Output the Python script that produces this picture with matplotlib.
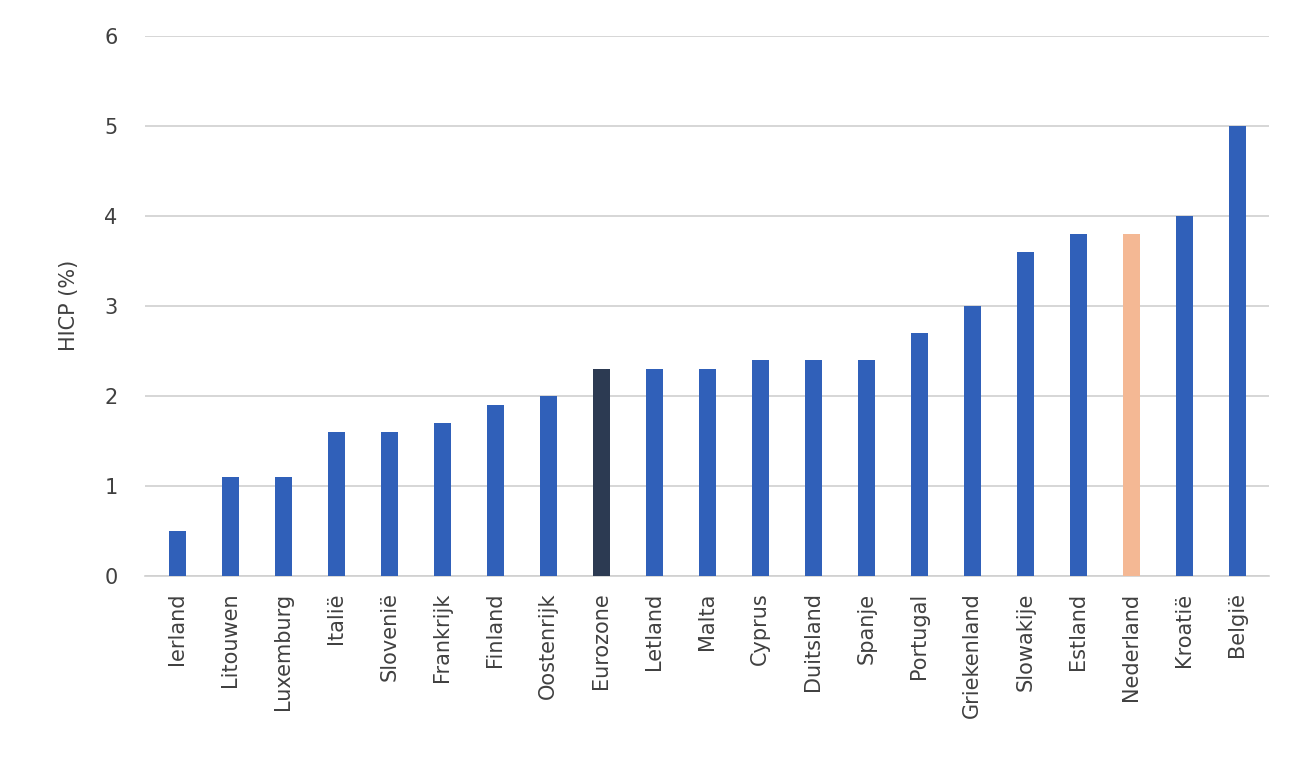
import matplotlib.pyplot as plt

countries = ["Ierland", "Litouwen", "Luxemburg", "Italië", "Slovenië", "Frankrijk",
             "Finland", "Oostenrijk", "Eurozone", "Letland", "Malta", "Cyprus",
             "Duitsland", "Spanje", "Portugal", "Griekenland", "Slowakije", "Estland",
             "Nederland", "Kroatië", "België"]
hicp = [0.5, 1.1, 1.1, 1.6, 1.6, 1.7, 1.9, 2.0, 2.3, 2.3, 2.3, 2.4,
        2.4, 2.4, 2.7, 3.0, 3.6, 3.8, 3.8, 4.0, 5.0]

colors = []
for c in countries:
    if c == "Eurozone":
        colors.append("#2c3a52")
    elif c == "Nederland":
        colors.append("#f4b894")
    else:
        colors.append("#3060b9")

fig = plt.figure(figsize=(12.99, 7.75), dpi=100)
ax = fig.add_axes([0.112, 0.257, 0.865, 0.697])
ax.bar(range(len(countries)), hicp, width=0.33, color=colors, zorder=3)

ax.set_ylim(0, 6)
ax.set_xlim(-0.6, len(countries) - 0.4)
ax.set_yticks(range(0, 7))
ax.set_xticks(range(len(countries)))
ax.set_xticklabels(countries, rotation=90, fontsize=15, color="#404040")
ax.tick_params(axis="y", labelsize=15, colors="#404040", length=0, pad=20)
ax.tick_params(axis="x", length=0, pad=12)
ax.set_ylabel("HICP (%)", fontsize=15, color="#404040", labelpad=18)
ax.grid(axis="y", color="#d0d0d0", linewidth=1.2, zorder=0)
for s in ["top", "right", "left"]:
    ax.spines[s].set_visible(False)
ax.spines["bottom"].set_color("#d0d0d0")
ax.spines["bottom"].set_linewidth(1.2)

fig.savefig("out.png", dpi=100)
